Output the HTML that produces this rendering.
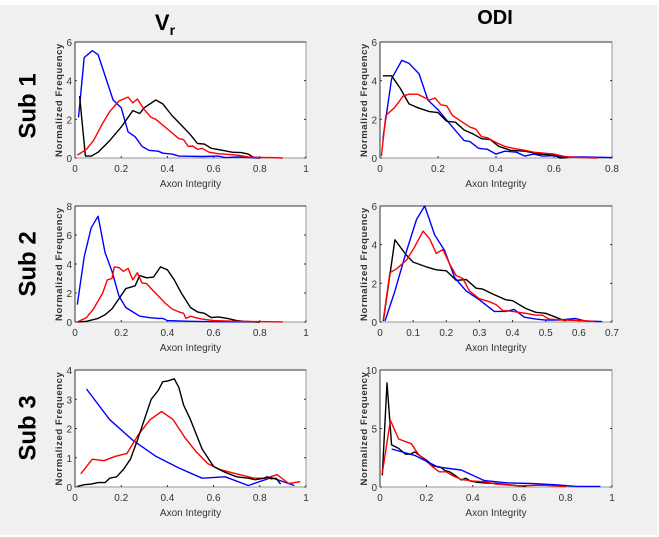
<!DOCTYPE html>
<html><head><meta charset="utf-8"><style>
body{margin:0;background:#fff;}
#wrap{position:absolute;left:0;top:5px;width:657px;height:530px;background:#f0f0f0;}
svg{position:absolute;left:0;top:0;}
text{font-family:"Liberation Sans",sans-serif;}
</style></head><body>
<div id="wrap"></div>
<svg id="fig" width="659" height="537"></svg>
<script>
// Panel data
const p1l_blue_x=[0.015,0.04,0.075,0.1,0.165,0.2,0.23,0.26,0.29,0.32,0.36,0.38,0.42,0.45,0.55,0.62,0.65,0.7,0.8];
const p1l_blue_y=[2.1,5.2,5.55,5.35,3.0,2.6,1.35,1.1,0.6,0.4,0.35,0.25,0.2,0.1,0.08,0.1,0.02,0.05,0];
const p1l_black_x=[0.02,0.045,0.07,0.1,0.15,0.2,0.25,0.28,0.3,0.35,0.38,0.42,0.46,0.5,0.53,0.56,0.59,0.63,0.68,0.72,0.75,0.77,0.8];
const p1l_black_y=[3.2,0.1,0.1,0.3,0.9,1.6,2.45,2.3,2.6,3.0,2.8,2.2,1.7,1.2,0.75,0.72,0.5,0.42,0.3,0.28,0.2,0.05,0];
const p1l_red_x=[0.01,0.05,0.08,0.12,0.15,0.19,0.21,0.23,0.25,0.27,0.3,0.33,0.35,0.4,0.45,0.47,0.49,0.51,0.53,0.55,0.58,0.62,0.7,0.75,0.8,0.85,0.9];
const p1l_red_y=[0.15,0.45,0.9,1.8,2.4,2.95,3.05,3.15,2.85,3.05,2.5,2.1,2.0,1.5,1.0,0.95,0.6,0.62,0.45,0.5,0.3,0.22,0.15,0.05,0.03,0.02,0];

const p1r_blue_x=[0.01,0.04,0.075,0.1,0.135,0.165,0.2,0.25,0.29,0.31,0.34,0.37,0.4,0.43,0.47,0.5,0.53,0.56,0.6,0.63,0.7,0.8];
const p1r_blue_y=[1.0,4.1,5.05,4.9,4.35,3.0,2.5,1.6,0.9,0.85,0.5,0.45,0.2,0.35,0.3,0.1,0.2,0.1,0.12,0.05,0.05,0.02];
const p1r_black_x=[0.01,0.04,0.07,0.1,0.13,0.17,0.2,0.23,0.26,0.29,0.32,0.35,0.38,0.41,0.45,0.5,0.55,0.6,0.62,0.65];
const p1r_black_y=[4.25,4.25,3.6,2.8,2.6,2.4,2.35,1.9,1.85,1.45,1.25,1.0,0.95,0.6,0.4,0.35,0.2,0.15,0.0,0.02];
const p1r_red_x=[0.005,0.02,0.05,0.08,0.1,0.13,0.17,0.19,0.21,0.23,0.25,0.28,0.31,0.33,0.35,0.37,0.4,0.43,0.46,0.5,0.53,0.6,0.63,0.65,0.7,0.75];
const p1r_red_y=[0.1,2.2,2.6,3.2,3.3,3.3,3.0,3.1,2.75,2.7,2.2,1.9,1.6,1.5,1.1,1.05,0.8,0.6,0.5,0.4,0.3,0.2,0.1,0.05,0.02,0];

const p2l_blue_x=[0.01,0.04,0.07,0.1,0.13,0.16,0.19,0.22,0.25,0.28,0.32,0.36,0.38,0.4,0.5,0.6,0.8];
const p2l_blue_y=[1.2,4.5,6.5,7.3,4.8,3.5,1.8,1.0,0.7,0.4,0.3,0.25,0.25,0.1,0.05,0.02,0];
const p2l_black_x=[0.01,0.05,0.1,0.13,0.16,0.19,0.22,0.26,0.28,0.31,0.34,0.37,0.4,0.43,0.46,0.5,0.53,0.56,0.59,0.62,0.66,0.7,0.73,0.8];
const p2l_black_y=[0,0.05,0.25,0.5,0.9,1.6,2.3,2.5,3.2,3.05,3.1,3.8,3.6,2.9,2.0,1.0,0.7,0.6,0.3,0.35,0.25,0.1,0.05,0];
const p2l_red_x=[0.01,0.05,0.08,0.12,0.14,0.16,0.17,0.19,0.21,0.23,0.25,0.27,0.29,0.31,0.33,0.36,0.39,0.42,0.45,0.47,0.48,0.5,0.52,0.55,0.6,0.7,0.8,0.9];
const p2l_red_y=[0,0.3,0.9,2.0,2.9,3.0,3.8,3.75,3.5,3.7,2.9,3.4,2.7,2.65,2.3,1.8,1.3,0.9,0.7,0.6,0.25,0.4,0.3,0.2,0.1,0.05,0.03,0.01];

const p2r_black_x=[0.01,0.045,0.08,0.1,0.14,0.17,0.2,0.23,0.26,0.29,0.31,0.34,0.38,0.4,0.44,0.47,0.5,0.53,0.56];
const p2r_black_y=[0.05,4.25,3.45,3.1,2.85,2.7,2.65,2.15,2.2,1.75,1.7,1.45,1.15,1.1,0.7,0.5,0.45,0.25,0.05];
const p2r_blue_x=[0.015,0.045,0.075,0.11,0.135,0.165,0.195,0.225,0.26,0.3,0.345,0.38,0.405,0.435,0.47,0.5,0.54,0.59,0.62,0.67];
const p2r_blue_y=[0.05,1.6,3.4,5.3,6.0,4.5,3.7,2.3,1.6,1.15,0.55,0.55,0.65,0.25,0.15,0.1,0.1,0.18,0.05,0.02];
const p2r_red_x=[0.01,0.03,0.05,0.08,0.105,0.13,0.15,0.17,0.19,0.21,0.23,0.25,0.27,0.3,0.33,0.35,0.37,0.4,0.44,0.47,0.49,0.51,0.55,0.6,0.65];
const p2r_red_y=[0.1,2.55,2.75,3.2,3.9,4.7,4.3,3.55,3.75,3.0,2.4,2.25,1.6,1.2,1.05,0.9,0.6,0.55,0.45,0.35,0.35,0.15,0.1,0.08,0.02];

const p3l_blue_x=[0.05,0.15,0.25,0.35,0.45,0.55,0.65,0.75,0.85,0.95];
const p3l_blue_y=[3.35,2.3,1.6,1.05,0.65,0.3,0.35,0.05,0.32,0.05];
const p3l_red_x=[0.025,0.075,0.125,0.175,0.225,0.275,0.325,0.375,0.425,0.475,0.525,0.575,0.625,0.675,0.725,0.775,0.825,0.875,0.925,0.975];
const p3l_red_y=[0.45,0.95,0.9,1.05,1.15,1.8,2.3,2.58,2.3,1.7,1.2,0.8,0.6,0.5,0.4,0.3,0.3,0.42,0.12,0.18];
const p3l_black_x=[0.01,0.04,0.07,0.1,0.13,0.15,0.18,0.21,0.24,0.27,0.3,0.33,0.36,0.38,0.4,0.43,0.45,0.47,0.5,0.55,0.6,0.65,0.7,0.75,0.78,0.82,0.83,0.85,0.87,0.89];
const p3l_black_y=[0.02,0.08,0.1,0.15,0.15,0.3,0.35,0.6,0.95,1.6,2.3,3.0,3.3,3.6,3.62,3.7,3.4,2.8,2.3,1.3,0.7,0.5,0.35,0.3,0.25,0.3,0.35,0.28,0.3,0.1];

const p3r_black_x=[0.01,0.03,0.05,0.08,0.11,0.13,0.15,0.17,0.2,0.23,0.26,0.28,0.3,0.33,0.35,0.37,0.39,0.42,0.45,0.5,0.55,0.6,0.63];
const p3r_black_y=[1.0,8.9,3.6,3.3,2.8,2.8,3.0,2.7,2.3,1.8,1.7,1.4,1.3,0.9,0.6,0.75,0.5,0.4,0.35,0.3,0.2,0.1,0.05];
const p3r_red_x=[0.01,0.045,0.08,0.135,0.165,0.2,0.235,0.255,0.285,0.315,0.35,0.4,0.45,0.5,0.6,0.7,0.8];
const p3r_red_y=[1.2,5.7,4.1,3.7,2.8,2.2,1.6,1.3,1.3,0.95,0.65,0.5,0.45,0.25,0.1,0.15,0.05];
const p3r_blue_x=[0.05,0.15,0.25,0.35,0.45,0.55,0.65,0.75,0.85,0.95];
const p3r_blue_y=[3.25,2.7,1.7,1.45,0.55,0.35,0.3,0.2,0.05,0.05];

const xticks_v=[0,0.2,0.4,0.6,0.8,1];
const xticks_odi1=[0,0.2,0.4,0.6,0.8];
const xticks_odi2=[0,0.1,0.2,0.3,0.4,0.5,0.6,0.7];
const yticks_6=[0,2,4,6];
const yticks_8=[0,2,4,6,8];
const yticks_4=[0,1,2,3,4];
const yticks_10=[0,5,10];

const NS="http://www.w3.org/2000/svg";
const svg=document.getElementById('fig');
function mk(tag,attrs,parent){const e=document.createElementNS(NS,tag);for(const k in attrs)e.setAttribute(k,attrs[k]);(parent||svg).appendChild(e);return e;}

const panels=[
 {id:'sub1-vr',x0:75,x1:306,y0:42,y1:158,xmax:1,ymax:6,xt:xticks_v,yt:yticks_6,s:[['blue',p1l_blue_x,p1l_blue_y],['black',p1l_black_x,p1l_black_y],['red',p1l_red_x,p1l_red_y]]},
 {id:'sub1-odi',x0:380,x1:612,y0:42,y1:158,xmax:0.8,ymax:6,xt:xticks_odi1,yt:yticks_6,s:[['blue',p1r_blue_x,p1r_blue_y],['black',p1r_black_x,p1r_black_y],['red',p1r_red_x,p1r_red_y]]},
 {id:'sub2-vr',x0:75,x1:306,y0:206,y1:322,xmax:1,ymax:8,xt:xticks_v,yt:yticks_8,s:[['blue',p2l_blue_x,p2l_blue_y],['black',p2l_black_x,p2l_black_y],['red',p2l_red_x,p2l_red_y]]},
 {id:'sub2-odi',x0:380,x1:612,y0:206,y1:322,xmax:0.7,ymax:6,xt:xticks_odi2,yt:yticks_6,s:[['black',p2r_black_x,p2r_black_y],['blue',p2r_blue_x,p2r_blue_y],['red',p2r_red_x,p2r_red_y]]},
 {id:'sub3-vr',x0:75,x1:306,y0:370,y1:487,xmax:1,ymax:4,xt:xticks_v,yt:yticks_4,s:[['blue',p3l_blue_x,p3l_blue_y],['red',p3l_red_x,p3l_red_y],['black',p3l_black_x,p3l_black_y]]},
 {id:'sub3-odi',x0:380,x1:612,y0:370,y1:487,xmax:1,ymax:10,xt:xticks_v,yt:yticks_10,s:[['black',p3r_black_x,p3r_black_y],['red',p3r_red_x,p3r_red_y],['blue',p3r_blue_x,p3r_blue_y]]}
];

panels.forEach(p=>{
 const g=mk('g',{});
 
 
 const sx=v=>p.x0+v/p.xmax*(p.x1-p.x0);
 const sy=v=>p.y1-v/p.ymax*(p.y1-p.y0);
 const bg=mk('rect',{x:p.x0,y:p.y0,width:p.x1-p.x0,height:p.y1-p.y0,fill:'#fff',stroke:'#999','stroke-width':1},g);
 
 
 const top=mk('line',{x1:p.x0,y1:p.y0,x2:p.x1,y2:p.y0,stroke:'#333','stroke-width':1},g);
 
 
 const la=mk('line',{x1:p.x0,y1:p.y0,x2:p.x0,y2:p.y1,stroke:'#333','stroke-width':1},g);
 
 
 p.xt.forEach(t=>{
  const X=sx(t);
  mk('line',{x1:X,y1:p.y1,x2:X,y2:p.y1-2,stroke:'#333'},g);
  const tx=mk('text',{x:X,y:p.y1+14,'font-size':10,'text-anchor':'middle',fill:'#333'},g);
  tx.textContent=String(t);
  
  
 });
 p.yt.forEach(t=>{
  const Y=sy(t);
  mk('line',{x1:p.x0,y1:Y,x2:p.x0+2,y2:Y,stroke:'#333'},g);
  mk('line',{x1:p.x1,y1:Y,x2:p.x1-2,y2:Y,stroke:'#333'},g);
  const tx=mk('text',{x:p.x0-3,y:Y+4,'font-size':10,'text-anchor':'end',fill:'#333'},g);
  tx.textContent=String(t);
  
  
 });
 const xl=mk('text',{x:(p.x0+p.x1)/2,y:p.y1+29,'font-size':10,'text-anchor':'middle',fill:'#333'},g);
 xl.textContent='Axon Integrity';
 
 
 const yx=p.x0-13,yy=(p.y0+p.y1)/2;
 const yl=mk('text',{x:yx,y:yy,'font-size':9.5,'font-weight':'bold','text-anchor':'middle',fill:'#333','letter-spacing':'0.6',transform:`rotate(-90 ${yx} ${yy})`},g);
 yl.textContent='Normalized Frequency';
 
 
 p.s.forEach(([c,xs,ys])=>{
  const d=xs.map((x,i)=>(i?'L':'M')+sx(x).toFixed(1)+','+sy(ys[i]).toFixed(1)).join('');
  const path=mk('path',{d:d,fill:'none',stroke:c,'stroke-width':1.4,'stroke-linejoin':'round'},g);
  
  
 });
});

const t1=mk('text',{x:165,y:30,'font-size':22,'font-weight':'bold','text-anchor':'middle',fill:'#000'});
t1.innerHTML='V<tspan font-size="14" dy="5">r</tspan>';


const t2=mk('text',{x:495,y:24,'font-size':20,'font-weight':'bold','text-anchor':'middle',fill:'#000'});
t2.textContent='ODI';


[['Sub 1',106],['Sub 2',264],['Sub 3',428]].forEach(([s,y])=>{
 const t=mk('text',{x:28,y:y,'font-size':24,'font-weight':'bold','text-anchor':'middle',fill:'#000','dominant-baseline':'central',transform:`rotate(-90 28 ${y})`});
 t.textContent=s;
 
 
});
</script>
</body></html>
